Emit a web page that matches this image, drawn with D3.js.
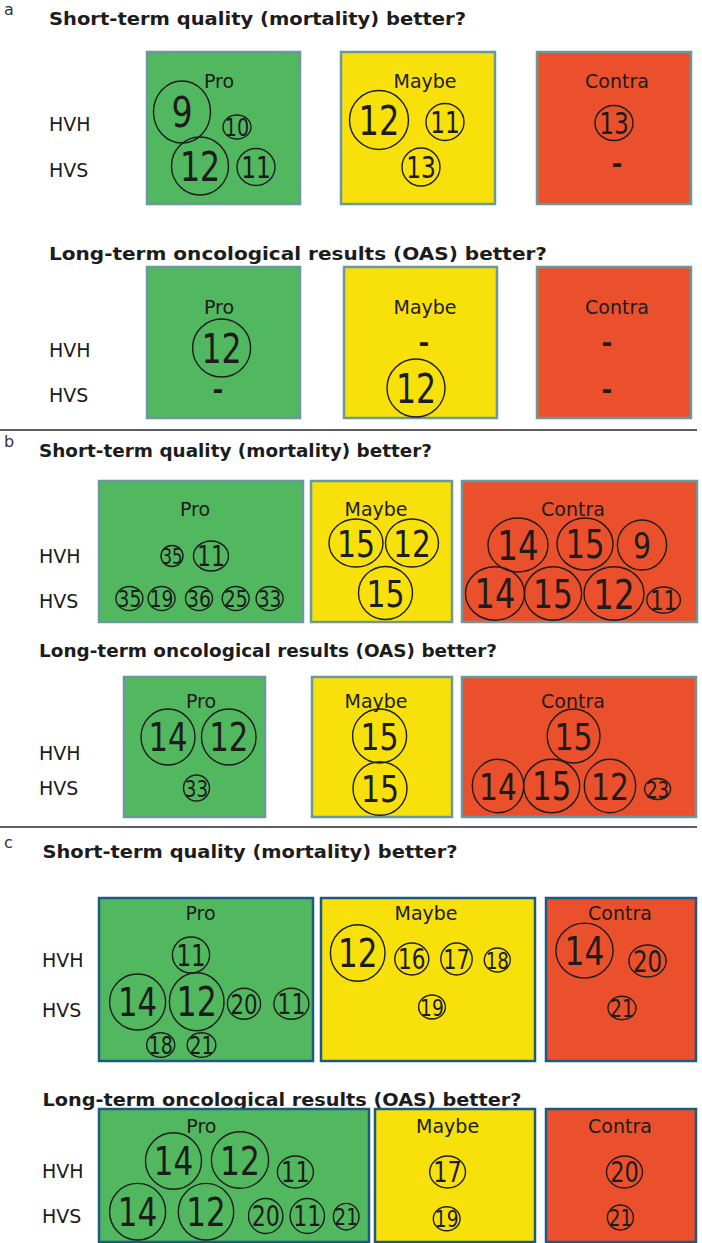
<!DOCTYPE html>
<html>
<head>
<meta charset="utf-8">
<script src="https://cdn.jsdelivr.net/npm/d3@7"></script>
<style>
  body { margin: 0; background: #fff; }
  svg { display: block; }
</style>
</head>
<body>
<svg id="chart" width="702" height="1243"></svg>
<script>
// Labels
const categories = ["Pro", "Maybe", "Contra"];
const rowLabels = ["HVH", "HVS"];
const sectionLetters = ["a", "b", "c"];
const questions = [
  "Short-term quality (mortality) better?",
  "Long-term oncological results (OAS) better?"
];

// Study reference numbers shown in each box: [category, row, reference]
const refsA1 = [["Pro","HVH",9],["Pro","HVH",10],["Pro","HVS",12],["Pro","HVS",11],
  ["Maybe","HVH",12],["Maybe","HVH",11],["Maybe","HVS",13],["Contra","HVH",13]];
const refsA2 = [["Pro","HVH",12],["Maybe","HVS",12]];
const refsB1 = [["Pro","HVH",35],["Pro","HVH",11],["Pro","HVS",35],["Pro","HVS",19],["Pro","HVS",36],
  ["Pro","HVS",25],["Pro","HVS",33],["Maybe","HVH",15],["Maybe","HVH",12],["Maybe","HVS",15],
  ["Contra","HVH",14],["Contra","HVH",15],["Contra","HVH",9],["Contra","HVS",14],["Contra","HVS",15],
  ["Contra","HVS",12],["Contra","HVS",11]];
const refsB2 = [["Pro","HVH",14],["Pro","HVH",12],["Pro","HVS",33],["Maybe","HVH",15],["Maybe","HVS",15],
  ["Contra","HVH",15],["Contra","HVS",14],["Contra","HVS",15],["Contra","HVS",12],["Contra","HVS",23]];
const refsC1 = [["Pro","HVH",11],["Pro","HVS",14],["Pro","HVS",12],["Pro","HVS",20],["Pro","HVS",11],
  ["Pro","HVS",18],["Pro","HVS",21],["Maybe","HVH",12],["Maybe","HVH",16],["Maybe","HVH",17],
  ["Maybe","HVH",18],["Maybe","HVS",19],["Contra","HVH",14],["Contra","HVH",20],["Contra","HVS",21]];
const refsC2 = [["Pro","HVH",14],["Pro","HVH",12],["Pro","HVH",11],["Pro","HVS",14],["Pro","HVS",12],
  ["Pro","HVS",20],["Pro","HVS",11],["Pro","HVS",21],["Maybe","HVH",17],["Maybe","HVS",19],
  ["Contra","HVH",20],["Contra","HVS",21]];

// Cells without any study ("-")
const emptyA1 = [["Contra","HVS"]];
const emptyA2 = [["Pro","HVS"],["Maybe","HVH"],["Contra","HVH"],["Contra","HVS"]];

// Layout: bubble centre inside its box [dx, dy, rx, ry], same order as the refs
const posA1 = [[35,60,28.5,31],[90,75,14,12],[53,114,28.5,29],[109,115,19,18.5],
  [38,68,29.5,29.5],[104,70,19,18.5],[80,115,19,19],[77,71,19,17.5]];
const posA2 = [[74.6,81,29,29],[72,121,29,29]];
const posB1 = [[73,75,11,10.5],[112,75,17.5,15],[30.4,117.5,13.5,12],[62.6,117.5,13.5,12],[100,117.5,13.5,12],
  [136.7,117.5,13.5,12],[170.6,117.5,13.5,12],[45,62,27,24],[101,62,26.5,24],[74.5,112,27,26.5],
  [56,64,30,27],[123,63,28,26],[180,64,24.6,25],[33,112.5,29.5,26.7],[91,112.5,28.6,26.7],
  [152,112.5,30,26.7],[201.6,119,16.8,13]];
const posB2 = [[44,60,27,28],[104.8,60,27.3,28],[72.5,111,13,13],[67.6,59,27,27],[68,111.5,27,26.7],
  [111.6,59,26.4,27],[36,109,25.7,26.7],[89.7,109,28,26.7],[148,109,25.7,26.7],[195.6,112,13,10.5]];
const posC1 = [[92,57,18.6,18],[38.6,104,28,28],[97.7,103.7,27.3,29],[145,105.7,16.6,15.5],[192.4,105.7,17.5,15.5],
  [61.7,147,14,12.3],[102.5,147,14.3,12.3],[36.7,55,27.3,28.3],[90.8,61,17,16],[135.5,61,15.7,16],
  [176.3,62,13,12],[111,109,13.4,12],[38.5,52.6,28.6,27.5],[101.5,63,18.6,16],[76,110,14,11.7]];
const posC2 = [[74.5,52,28,28.3],[141,51,28.6,28.3],[196.4,63,18,16],[38.6,102.7,28,28.3],[107,102.7,27.7,28.3],
  [166.7,107,17.2,17.5],[208.3,107,17.2,17.5],[247.2,107.7,12.8,13.3],[72.6,63,17.9,16],[71.7,109.7,13.4,12],
  [78.5,63,18,16],[74.4,108.5,13,12.5]];
const dashA1 = [[80,113]];
const dashA2 = [[71,124],[80,77],[70,77],[70,124]];

const fills = { Pro: "#52b860", Maybe: "#f8e10b", Contra: "#eb502d" };

const panels = [
  { letter: "a", q: 0, refs: refsA1, pos: posA1, empty: emptyA1, dash: dashA1,
    y: [52, 204], boxes: [[147, 300], [341, 495], [537, 691]], labelX: [72, 84, 80], labelY: 88,
    title: [49, 25, 417, 18.5], rowX: 49, rowY: [131, 177], letterY: 15, border: "#6b989c" },
  { q: 1, refs: refsA2, pos: posA2, empty: emptyA2, dash: dashA2,
    y: [267, 418], boxes: [[147, 300], [344, 497], [537, 691]], labelX: [72, 81, 80], labelY: 314,
    title: [49, 260, 498, 18.5], rowX: 49, rowY: [357, 402], border: "#6b989c" },
  { letter: "b", q: 0, refs: refsB1, pos: posB1, empty: [], dash: [],
    y: [481, 622], boxes: [[99, 303], [311, 452], [462, 697]], labelX: [96, 65, 111], labelY: 516,
    title: [39, 457, 393, 17.5], rowX: 39, rowY: [563, 608], letterY: 447, border: "#6b989c" },
  { q: 1, refs: refsB2, pos: posB2, empty: [], dash: [],
    y: [677, 817], boxes: [[124, 265], [312, 452], [462, 696]], labelX: [77, 64, 111], labelY: 708,
    title: [39, 657, 458, 17], rowX: 39, rowY: [760, 795], border: "#6b989c" },
  { letter: "c", q: 0, refs: refsC1, pos: posC1, empty: [], dash: [],
    y: [898, 1061], boxes: [[99, 313], [321, 535], [546, 696]], labelX: [101.5, 105, 74], labelY: 920,
    title: [42.5, 858, 415, 18.5], rowX: 42, rowY: [967, 1017], letterY: 848, border: "#1d5a80" },
  { q: 1, refs: refsC2, pos: posC2, empty: [], dash: [],
    y: [1109, 1242], boxes: [[99, 369], [375, 535], [546, 696]], labelX: [102.4, 72.6, 74], labelY: 1133,
    title: [42.5, 1106, 479, 18], rowX: 42, rowY: [1178, 1223], border: "#1d5a80" }
];

const separators = [430, 827];

const svg = d3.select("#chart");
svg.selectAll("*").remove();

const ink = "#1c1c1c";
const sans = "DejaVu Sans, Verdana, sans-serif";

// Horizontal separators between a / b / c
svg.selectAll("line.sep").data(separators).join("line")
  .attr("class", "sep")
  .attr("x1", 0).attr("x2", 697)
  .attr("y1", d => d).attr("y2", d => d)
  .attr("stroke", "#2a2a2a").attr("stroke-width", 1.5);

panels.forEach(p => {
  const g = svg.append("g");

  if (p.letter) {
    g.append("text")
      .attr("x", 4).attr("y", p.letterY)
      .attr("font-family", sans).attr("font-size", 16)
      .attr("fill", "#333")
      .text(p.letter);
  }

  // Question title
  const [tx, ty, tw, tfs] = p.title;
  g.append("text")
    .attr("x", tx).attr("y", ty)
    .attr("font-family", sans).attr("font-weight", "bold")
    .attr("font-size", tfs)
    .attr("textLength", tw).attr("lengthAdjust", "spacingAndGlyphs")
    .attr("fill", ink)
    .text(questions[p.q]);

  // Row labels
  g.selectAll("text.row").data(rowLabels).join("text")
    .attr("class", "row")
    .attr("x", p.rowX)
    .attr("y", (d, i) => p.rowY[i])
    .attr("font-family", sans).attr("font-size", 19)
    .attr("fill", ink)
    .text(d => d);

  categories.forEach((cat, ci) => {
    const [x0, x1] = p.boxes[ci];
    const [y0, y1] = p.y;
    const x = d3.scaleLinear().domain([0, x1 - x0]).range([x0, x1]);
    const y = d3.scaleLinear().domain([0, y1 - y0]).range([y0, y1]);
    const box = g.append("g");

    box.append("rect")
      .attr("x", x(0)).attr("y", y(0))
      .attr("width", x(x1 - x0) - x(0)).attr("height", y(y1 - y0) - y(0))
      .attr("fill", fills[cat])
      .attr("stroke", p.border).attr("stroke-width", 2.5);

    box.append("text")
      .attr("x", x(p.labelX[ci])).attr("y", p.labelY)
      .attr("text-anchor", "middle")
      .attr("font-family", sans).attr("font-size", 19)
      .attr("fill", ink)
      .text(cat);

    const bubbles = p.refs
      .map((r, i) => ({ cat: r[0], row: r[1], ref: r[2], pos: p.pos[i] }))
      .filter(b => b.cat === cat);

    const bg = box.selectAll("g.bubble").data(bubbles).join("g").attr("class", "bubble");
    bg.append("ellipse")
      .attr("cx", d => x(d.pos[0])).attr("cy", d => y(d.pos[1]))
      .attr("rx", d => d.pos[2]).attr("ry", d => d.pos[3])
      .attr("fill", "none").attr("stroke", ink).attr("stroke-width", 1.4);
    bg.append("text")
      .each(function (d) {
        const r = Math.max(d.pos[2], d.pos[3]);
        const h = 0.77 * r + 7;
        const fs = h / 0.729;
        const digits = String(d.ref).length;
        d3.select(this)
          .attr("x", x(d.pos[0])).attr("y", y(d.pos[1]) + h / 2)
          .attr("text-anchor", "middle")
          .attr("font-family", sans).attr("font-size", fs)
          .attr("textLength", digits * 0.5 * fs).attr("lengthAdjust", "spacingAndGlyphs")
          .attr("fill", ink)
          .text(d.ref);
      });

    // "-" for cells with no study
    const dashes = p.empty
      .map((e, i) => ({ cat: e[0], row: e[1], pos: p.dash[i] }))
      .filter(e => e.cat === cat);
    box.selectAll("text.dash").data(dashes).join("text")
      .attr("class", "dash")
      .attr("x", d => x(d.pos[0])).attr("y", d => y(d.pos[1]) + 8)
      .attr("text-anchor", "middle")
      .attr("font-family", sans).attr("font-weight", "bold").attr("font-size", 26)
      .attr("fill", ink)
      .text("-");
  });
});
</script>
</body>
</html>
